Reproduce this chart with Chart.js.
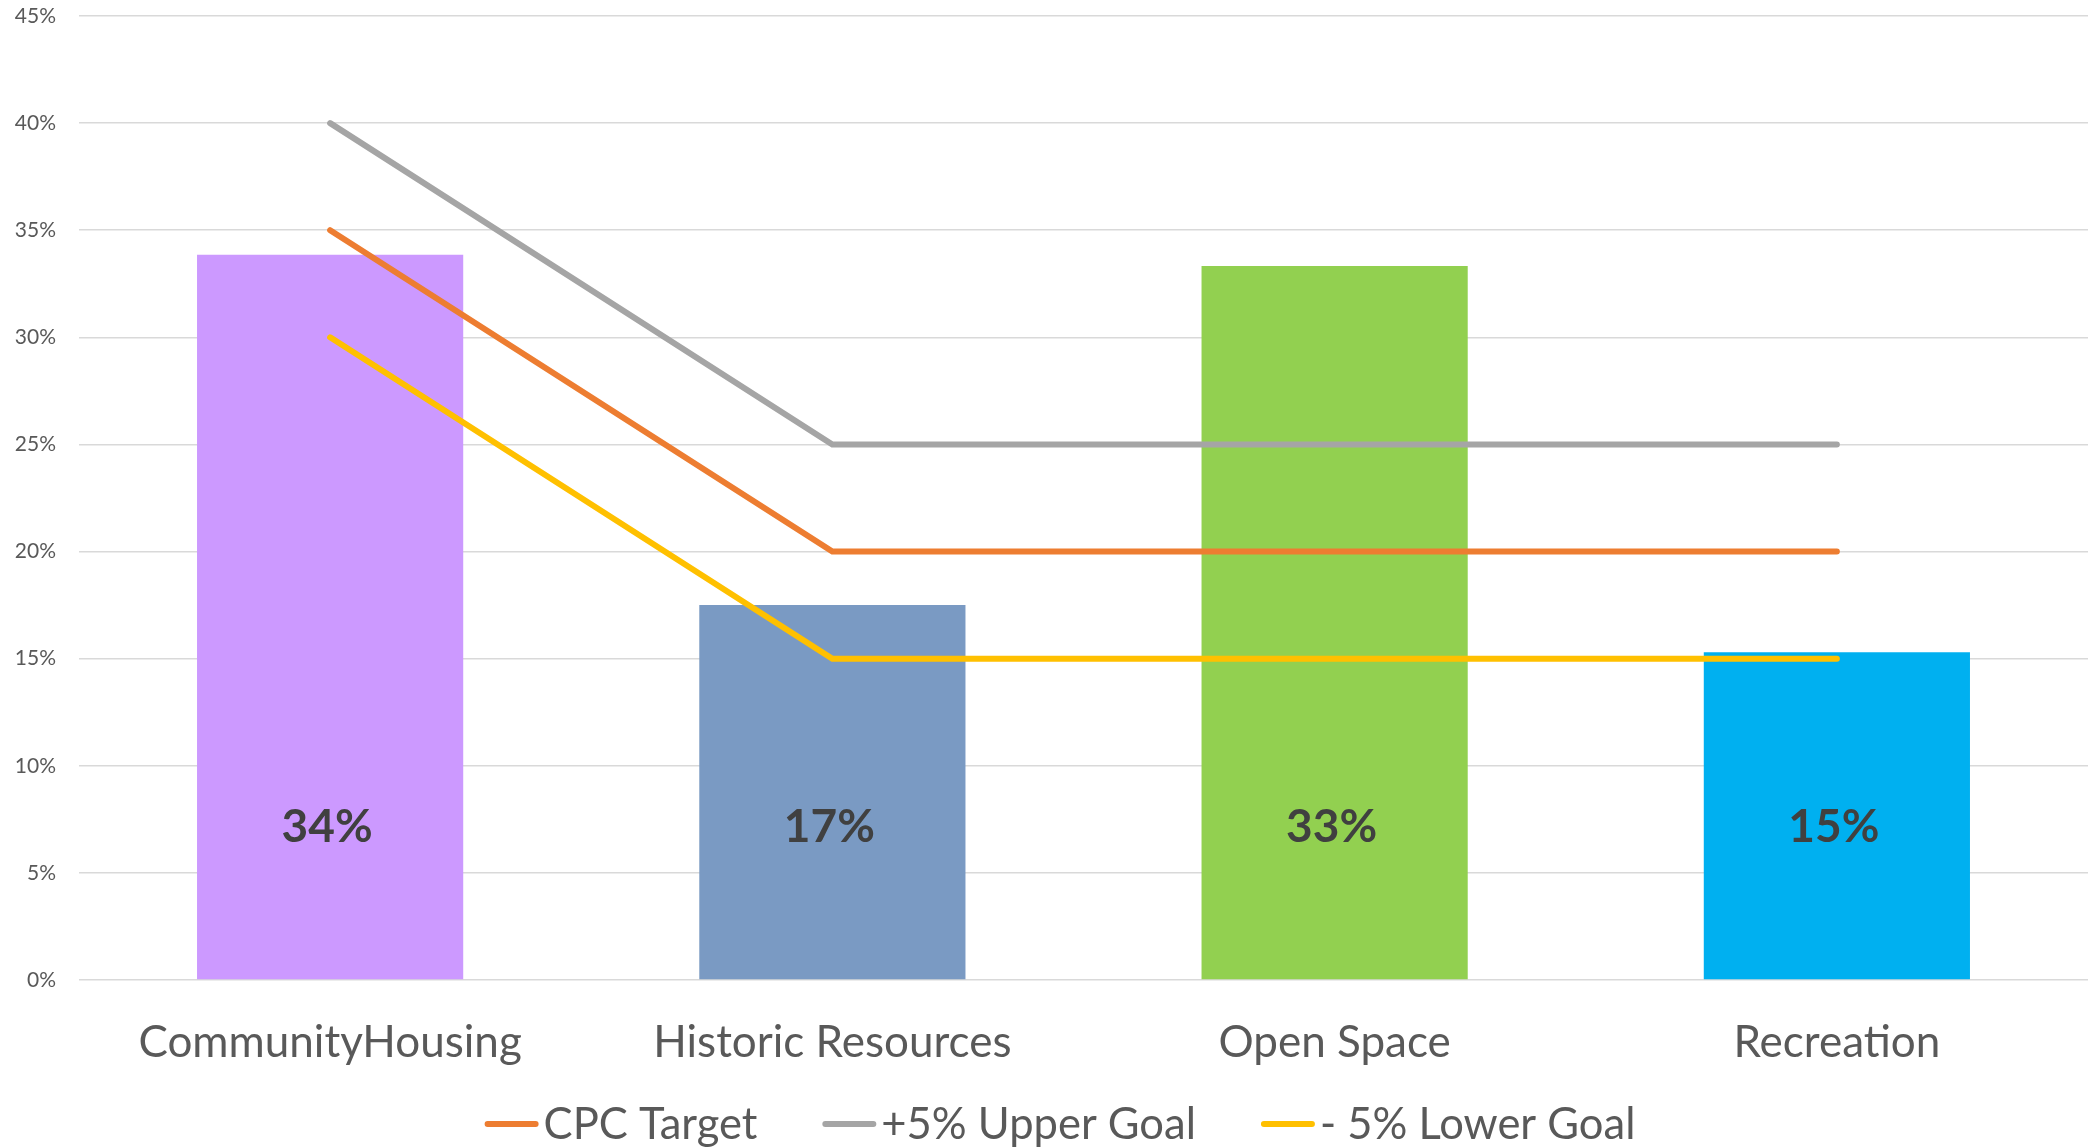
<!DOCTYPE html>
<html>
<head>
<meta charset="utf-8">
<script src="https://cdn.jsdelivr.net/npm/chart.js@4.4.1/dist/chart.umd.min.js"></script>
<style>
  html, body { margin: 0; padding: 0; background: #ffffff; }
  #wrap { width: 2092px; height: 1147px; position: relative; }
</style>
</head>
<body>
<div id="wrap"><canvas id="c" width="2092" height="1147"></canvas></div>
<script>
const categories = ['CommunityHousing', 'Historic Resources', 'Open Space', 'Recreation'];
const actualShare = [33.85, 17.5, 33.33, 15.3];
const actualLabels = ['34%', '17%', '33%', '15%'];
const cpcTarget = [35, 20, 20, 20];
const upperGoal = [40, 25, 25, 25];
const lowerGoal = [30, 15, 15, 15];
const yTicks = [0, 5, 10, 15, 20, 25, 30, 35, 40, 45];

const barColors = ['#CC99FF', '#7A9AC3', '#92D050', '#00B0F0'];
const FONT = 'Lato, "Open Sans", sans-serif';

const dataLabelPlugin = {
  id: 'dataLabelPlugin',
  afterDatasetsDraw(chart) {
    const ctx = chart.ctx;
    const meta = chart.getDatasetMeta(0);
    const yScale = chart.scales.y;
    ctx.save();
    ctx.font = 'bold 46px ' + FONT;
    ctx.fillStyle = '#404040';
    ctx.textAlign = 'center';
    ctx.textBaseline = 'middle';
    meta.data.forEach((bar, i) => {
      ctx.fillText(actualLabels[i], bar.x - 3, yScale.getPixelForValue(7.15));
    });
    ctx.restore();
  }
};

const legendPlugin = {
  id: 'customLegend',
  afterDraw(chart) {
    const ctx = chart.ctx;
    const items = chart.data.datasets.filter(d => d.type === 'line');
    ctx.save();
    ctx.font = '43.5px ' + FONT;
    ctx.textBaseline = 'middle';
    const sample = 54, gapText = 5, gapItem = 65;
    const widths = items.map(d => sample + gapText + ctx.measureText(d.label).width);
    const total = widths.reduce((a, b) => a + b, 0) + gapItem * (items.length - 1);
    let x = 1060 - total / 2;
    const y = 1124;
    items.forEach((d, i) => {
      ctx.strokeStyle = d.borderColor;
      ctx.lineWidth = 6;
      ctx.lineCap = 'round';
      ctx.beginPath();
      ctx.moveTo(x + 3, y);
      ctx.lineTo(x + sample - 3, y);
      ctx.stroke();
      ctx.fillStyle = '#595959';
      ctx.fillText(d.label, x + sample + gapText, y + 1);
      x += widths[i] + gapItem;
    });
    ctx.restore();
  }
};

const lineCommon = {
  type: 'line',
  borderWidth: 6,
  pointRadius: 0,
  pointHoverRadius: 0,
  borderCapStyle: 'round',
  borderJoinStyle: 'miter',
  tension: 0,
  fill: false,
  order: 0
};

new Chart(document.getElementById('c'), {
  data: {
    labels: categories,
    datasets: [
      {
        type: 'bar',
        label: 'Actual',
        data: actualShare,
        backgroundColor: barColors,
        borderWidth: 0,
        barPercentage: 0.53,
        categoryPercentage: 1.0,
        order: 1
      },
      Object.assign({}, lineCommon, { label: 'CPC Target', data: cpcTarget, borderColor: '#ED7D31' }),
      Object.assign({}, lineCommon, { label: '+5% Upper Goal', data: upperGoal, borderColor: '#A5A5A5' }),
      Object.assign({}, lineCommon, { label: '- 5% Lower Goal', data: lowerGoal, borderColor: '#FFC000' })
    ]
  },
  options: {
    responsive: false,
    animation: false,
    devicePixelRatio: 1,
    layout: { padding: { left: 0, right: 4, top: 0, bottom: 0 } },
    plugins: {
      legend: { display: false },
      tooltip: { enabled: false }
    },
    scales: {
      x: {
        grid: { display: false, drawTicks: false },
        border: { display: false },
        ticks: {
          color: '#595959',
          font: { family: FONT, size: 44 },
          padding: 36,
          maxRotation: 0,
          autoSkip: false
        },
        afterFit(scale) { scale.height = 167; }
      },
      y: {
        min: 0,
        max: 45,
        afterBuildTicks(scale) { scale.ticks = yTicks.map(v => ({ value: v })); },
        grid: { color: '#D9D9D9', lineWidth: 1.5, drawTicks: false },
        border: { display: false },
        ticks: {
          color: '#595959',
          font: { family: FONT, size: 21 },
          padding: 23,
          callback: v => v + '%'
        },
        afterFit(scale) {
          scale.width = 79;
          scale.paddingTop = 16;
          scale.paddingBottom = 0;
        }
      }
    }
  },
  plugins: [dataLabelPlugin, legendPlugin]
});
</script>
</body>
</html>
